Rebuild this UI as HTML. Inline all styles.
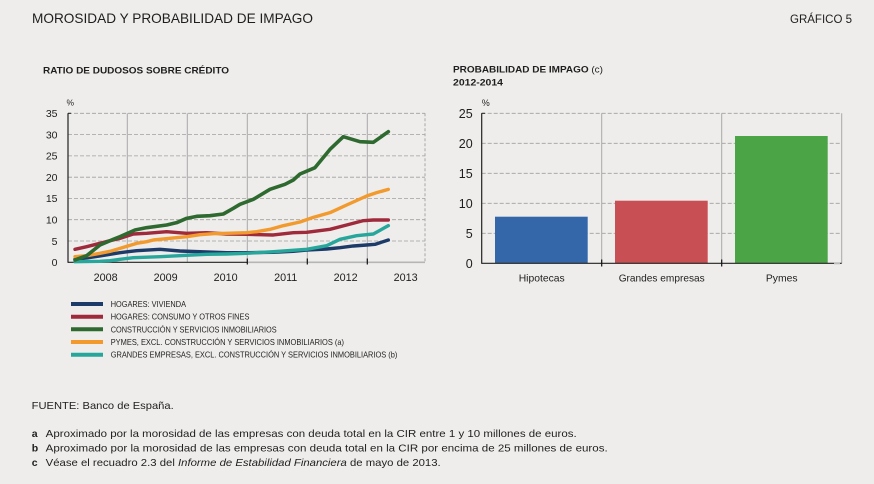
<!DOCTYPE html>
<html>
<head>
<meta charset="utf-8">
<style>
  html,body{margin:0;padding:0;background:#eeedeb;}
  svg{display:block;}
  text{font-family:"Liberation Sans", Arial, sans-serif; fill:#1e1e1e;}
</style>
</head>
<body>
<svg width="874" height="484" viewBox="0 0 874 484" xmlns="http://www.w3.org/2000/svg">
  <rect x="0" y="0" width="874" height="484" fill="#eeedeb"/>

  <!-- Header -->
  <text x="32" y="23" font-size="14" textLength="281" lengthAdjust="spacingAndGlyphs">MOROSIDAD Y PROBABILIDAD DE IMPAGO</text>
  <text x="790" y="23" font-size="12" textLength="62" lengthAdjust="spacingAndGlyphs">GRÁFICO 5</text>

  <!-- Subtitles -->
  <text x="43" y="73.3" font-size="9.5" font-weight="bold" textLength="186" lengthAdjust="spacingAndGlyphs">RATIO DE DUDOSOS SOBRE CRÉDITO</text>
  <text x="453" y="72.7" font-size="9.5" font-weight="bold" textLength="150" lengthAdjust="spacingAndGlyphs">PROBABILIDAD DE IMPAGO <tspan font-weight="normal">(c)</tspan></text>
  <text x="453" y="85.5" font-size="9.5" font-weight="bold" textLength="50" lengthAdjust="spacingAndGlyphs">2012-2014</text>

  <!-- ============ LEFT CHART ============ -->
  <g stroke="#a0a0a0" stroke-width="0.8" stroke-dasharray="4 2" fill="none">
    <line x1="68" y1="113.3" x2="425" y2="113.3"/>
    <line x1="68" y1="134.6" x2="425" y2="134.6"/>
    <line x1="68" y1="155.9" x2="425" y2="155.9"/>
    <line x1="68" y1="177.2" x2="425" y2="177.2"/>
    <line x1="68" y1="198.4" x2="425" y2="198.4"/>
    <line x1="68" y1="219.7" x2="425" y2="219.7"/>
    <line x1="68" y1="241" x2="425" y2="241"/>
  </g>
  <g stroke="#a8a8a8" stroke-width="1" fill="none">
    <line x1="127.3" y1="113.3" x2="127.3" y2="262.3"/>
    <line x1="187.3" y1="113.3" x2="187.3" y2="262.3"/>
    <line x1="247.3" y1="113.3" x2="247.3" y2="262.3"/>
    <line x1="307.3" y1="113.3" x2="307.3" y2="262.3"/>
    <line x1="367.3" y1="113.3" x2="367.3" y2="262.3"/>
    <line x1="425" y1="113.3" x2="425" y2="262.3" stroke-dasharray="3 2"/>
  </g>
  <!-- axes -->
  <line x1="68" y1="113.3" x2="68" y2="262.8" stroke="#222" stroke-width="1.2"/>
  <line x1="68" y1="113.3" x2="71" y2="113.3" stroke="#222" stroke-width="1"/>
  <line x1="68" y1="262.3" x2="247.3" y2="262.3" stroke="#222" stroke-width="1.2"/>
  <line x1="247.3" y1="262.3" x2="425" y2="262.3" stroke="#b5b5b5" stroke-width="1.6"/>
  <g stroke="#111" stroke-width="1.2">
    <line x1="247.3" y1="258.5" x2="247.3" y2="264.5"/>
    <line x1="307.3" y1="258.5" x2="307.3" y2="264.5"/>
    <line x1="367.3" y1="258.5" x2="367.3" y2="264.5"/>
  </g>

  <!-- y labels left -->
  <g font-size="10.5" text-anchor="end">
    <text x="57.5" y="117.1">35</text>
    <text x="57.5" y="138.4">30</text>
    <text x="57.5" y="159.7">25</text>
    <text x="57.5" y="181">20</text>
    <text x="57.5" y="202.2">15</text>
    <text x="57.5" y="223.5">10</text>
    <text x="57.5" y="244.8">5</text>
    <text x="57.5" y="266.1">0</text>
  </g>
  <text x="66.5" y="105.7" font-size="8.5">%</text>

  <!-- x labels left -->
  <g font-size="10.8" text-anchor="middle">
    <text x="105.7" y="281">2008</text>
    <text x="165.7" y="281">2009</text>
    <text x="225.7" y="281">2010</text>
    <text x="285.7" y="281">2011</text>
    <text x="345.7" y="281">2012</text>
    <text x="405.7" y="281">2013</text>
  </g>

  <!-- series -->
  <g transform="translate(20,90) scale(0.33333)" fill="none" stroke-linejoin="round" stroke-linecap="round">
    <polyline vector-effect="non-scaling-stroke" stroke="#1d3b68" stroke-width="3.4"
      points="165,508 200,504 240,498 270,493 300,488 350,482 420,478 480,483 560,486 620,488 680,488 760,487 820,484 860,480 920,477 960,473 1000,468 1040,465 1065,463 1105,450"/>
    <polyline vector-effect="non-scaling-stroke" stroke="#27a79b" stroke-width="3.4"
      points="165,515 240,514 270,512 300,508 340,503 420,500 500,496 560,493 620,492 680,490 760,485 860,478 920,467 960,448 1010,437 1060,432 1105,407"/>
    <polyline vector-effect="non-scaling-stroke" stroke="#9f2a3c" stroke-width="3.4"
      points="165,478 200,470 240,460 270,452 300,445 340,432 380,430 440,425 500,430 560,428 620,432 680,433 720,434 760,435 820,428 860,427 930,418 980,405 1030,392 1060,390 1105,390"/>
    <polyline vector-effect="non-scaling-stroke" stroke="#f29a2e" stroke-width="3.4"
      points="165,500 200,497 240,490 270,484 300,475 330,466 350,460 380,455 400,450 450,445 500,440 540,434 580,431 620,430 680,428 710,425 750,418 790,407 840,396 880,382 930,368 980,345 1040,318 1070,308 1105,298"/>
    <polyline vector-effect="non-scaling-stroke" stroke="#2e692f" stroke-width="3.6"
      points="165,510 200,497 240,465 280,448 300,440 345,420 380,413 440,405 470,398 500,385 530,379 570,377 610,372 640,355 660,343 700,328 750,298 795,283 820,270 840,252 885,233 930,178 970,140 1020,155 1060,157 1105,125"/>
  </g>

  <!-- Legend -->
  <g stroke-width="4">
    <line x1="71" y1="304" x2="103" y2="304" stroke="#1d3b68"/>
    <line x1="71" y1="316.7" x2="103" y2="316.7" stroke="#9f2a3c"/>
    <line x1="71" y1="329.3" x2="103" y2="329.3" stroke="#2e692f"/>
    <line x1="71" y1="342" x2="103" y2="342" stroke="#f29a2e"/>
    <line x1="71" y1="354.7" x2="103" y2="354.7" stroke="#27a79b"/>
  </g>
  <g font-size="8.5" style="fill:#2a2a2a">
    <text x="110.7" y="307" textLength="75.3" lengthAdjust="spacingAndGlyphs">HOGARES: VIVIENDA</text>
    <text x="110.7" y="319.7" textLength="138.7" lengthAdjust="spacingAndGlyphs">HOGARES: CONSUMO Y OTROS FINES</text>
    <text x="110.7" y="332.3" textLength="166" lengthAdjust="spacingAndGlyphs">CONSTRUCCIÓN Y SERVICIOS INMOBILIARIOS</text>
    <text x="110.7" y="345" textLength="233.3" lengthAdjust="spacingAndGlyphs">PYMES, EXCL. CONSTRUCCIÓN Y SERVICIOS INMOBILIARIOS (a)</text>
    <text x="110.7" y="357.7" textLength="286.7" lengthAdjust="spacingAndGlyphs">GRANDES EMPRESAS, EXCL. CONSTRUCCIÓN Y SERVICIOS INMOBILIARIOS (b)</text>
  </g>

  <!-- ============ RIGHT CHART ============ -->
  <g stroke="#a0a0a0" stroke-width="0.8" stroke-dasharray="4 2" fill="none">
    <line x1="481.7" y1="113.3" x2="841.7" y2="113.3"/>
    <line x1="481.7" y1="143.3" x2="841.7" y2="143.3"/>
    <line x1="481.7" y1="173.3" x2="841.7" y2="173.3"/>
    <line x1="481.7" y1="203.3" x2="841.7" y2="203.3"/>
    <line x1="481.7" y1="233.3" x2="841.7" y2="233.3"/>
  </g>
  <g stroke="#a8a8a8" stroke-width="1">
    <line x1="601.7" y1="113.3" x2="601.7" y2="263.3"/>
    <line x1="721.7" y1="113.3" x2="721.7" y2="263.3"/>
    <line x1="841.7" y1="113.3" x2="841.7" y2="263.3"/>
  </g>
  <!-- bars -->
  <rect x="495" y="216.7" width="92.7" height="46.6" fill="#3467aa"/>
  <rect x="615" y="200.7" width="92.7" height="62.6" fill="#c84f54"/>
  <rect x="735" y="136" width="92.7" height="127.3" fill="#4ba446"/>
  <!-- axes -->
  <line x1="481.7" y1="113.3" x2="481.7" y2="263.8" stroke="#222" stroke-width="1.2"/>
  <line x1="481.7" y1="113.3" x2="485" y2="113.3" stroke="#222" stroke-width="1"/>
  <line x1="481.7" y1="263.3" x2="841.7" y2="263.3" stroke="#222" stroke-width="1.2"/>
  <g stroke="#111" stroke-width="1.2">
    <line x1="601.7" y1="259.5" x2="601.7" y2="266.5"/>
    <line x1="721.7" y1="259.5" x2="721.7" y2="266.5"/>
  </g>
  <line x1="834" y1="263.3" x2="840" y2="263.3" stroke="#bbb" stroke-width="2"/>

  <g font-size="12.5" text-anchor="end">
    <text x="472.7" y="117.8">25</text>
    <text x="472.7" y="147.8">20</text>
    <text x="472.7" y="177.8">15</text>
    <text x="472.7" y="207.8">10</text>
    <text x="472.7" y="237.8">5</text>
    <text x="472.7" y="267.8">0</text>
  </g>
  <text x="481.7" y="106" font-size="9">%</text>

  <g font-size="10.5" text-anchor="middle">
    <text x="541.7" y="281.5" textLength="46" lengthAdjust="spacingAndGlyphs">Hipotecas</text>
    <text x="661.7" y="281.5" textLength="86" lengthAdjust="spacingAndGlyphs">Grandes empresas</text>
    <text x="781.7" y="281.5" textLength="31.7" lengthAdjust="spacingAndGlyphs">Pymes</text>
  </g>

  <!-- Footer -->
  <g font-size="10.5" style="fill:#2a2a2a">
    <text x="31.7" y="409" textLength="142" lengthAdjust="spacingAndGlyphs">FUENTE: Banco de España.</text>
    <text x="31.7" y="437" font-weight="bold">a</text>
    <text x="45.7" y="437" textLength="531" lengthAdjust="spacingAndGlyphs">Aproximado por la morosidad de las empresas con deuda total en la CIR entre 1 y 10 millones de euros.</text>
    <text x="31.7" y="451.5" font-weight="bold">b</text>
    <text x="45.7" y="451.5" textLength="562" lengthAdjust="spacingAndGlyphs">Aproximado por la morosidad de las empresas con deuda total en la CIR por encima de 25 millones de euros.</text>
    <text x="31.7" y="466" font-weight="bold">c</text>
    <text x="45.7" y="466" textLength="395" lengthAdjust="spacingAndGlyphs">Véase el recuadro 2.3 del <tspan font-style="italic">Informe de Estabilidad Financiera</tspan> de mayo de 2013.</text>
  </g>
</svg>
</body>
</html>
